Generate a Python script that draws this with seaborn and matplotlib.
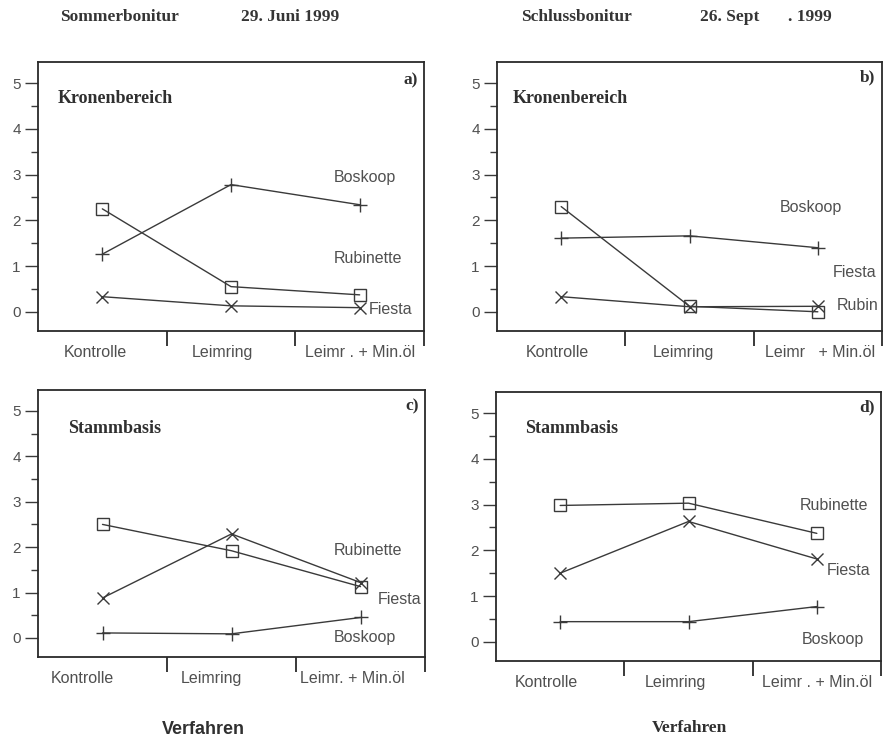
import matplotlib
matplotlib.use("Agg")
import numpy as np
import pandas as pd
import matplotlib.pyplot as plt
import seaborn as sns
from matplotlib.transforms import ScaledTranslation
from matplotlib.ticker import FixedLocator, MultipleLocator

# ---------------- data ----------------
categories = ["Kontrolle", "Leimring", "Leimr. + Min.öl"]
tick_labels_a = ["Kontrolle", "Leimring", "Leimr . + Min.öl"]
tick_labels_b = ["Kontrolle", "Leimring", "Leimr   + Min.öl"]
tick_labels_c = ["Kontrolle", "Leimring", "Leimr. + Min.öl"]
tick_labels_d = ["Kontrolle", "Leimring", "Leimr . + Min.öl"]
y_ticks = [0, 1, 2, 3, 4, 5]

# a) Sommerbonitur, Kronenbereich
boskoop_a = [1.26, 2.78, 2.34]
rubinette_a = [2.25, 0.55, 0.37]
fiesta_a = [0.33, 0.13, 0.09]
# b) Schlussbonitur, Kronenbereich
boskoop_b = [1.61, 1.66, 1.40]
rubinette_b = [2.30, 0.12, 0.00]
fiesta_b = [0.33, 0.11, 0.12]
# c) Sommerbonitur, Stammbasis
rubinette_c = [2.50, 1.92, 1.13]
fiesta_c = [0.88, 2.29, 1.22]
boskoop_c = [0.11, 0.09, 0.45]
# d) Schlussbonitur, Stammbasis
rubinette_d = [2.98, 3.03, 2.37]
fiesta_d = [1.50, 2.63, 1.81]
boskoop_d = [0.44, 0.44, 0.77]

# ---------------- style ----------------
sns.set_style("ticks")
plt.rcParams["font.family"] = ["Liberation Sans", "DejaVu Sans"]
LINE = "#3a3a3a"
TXT = "#505050"
SERIF = ["Liberation Serif", "DejaVu Serif"]

fig = plt.figure(figsize=(8.83, 7.38), dpi=100)
W, H = 883, 738


def axes_px(left, right, top, bottom):
    return fig.add_axes([left / W, 1 - bottom / H, (right - left) / W, (bottom - top) / H])


markers = {"Boskoop": dict(marker="+", ms=10),
           "Rubinette": dict(marker="s", ms=9),
           "Fiesta": dict(marker="x", ms=8)}


def panel(ax, series, ticklabels, offsets, area, letter, labels):
    for name, vals in series:
        df = pd.DataFrame({"Verfahren": categories, "Wert": vals})
        sns.lineplot(data=df, x="Verfahren", y="Wert", ax=ax, color=LINE, lw=1.0,
                     markerfacecolor="none", markeredgecolor=LINE, mew=1.0,
                     sort=False, **markers[name])
    ax.set_xlim(-0.5, 2.5)
    ax.set_ylim(-0.42, 5.46)
    ax.set_xlabel("")
    ax.set_ylabel("")
    for s in ax.spines.values():
        s.set_visible(True)
        s.set_linewidth(1.3)
        s.set_color("#2a2a2a")
    ax.yaxis.set_major_locator(FixedLocator(y_ticks))
    ax.yaxis.set_minor_locator(FixedLocator([0.5, 1.5, 2.5, 3.5, 4.5]))
    ax.tick_params(axis="y", which="major", length=9.5, width=1.0, color=LINE,
                   labelsize=11, labelcolor=TXT, pad=3)
    ax.tick_params(axis="y", which="minor", length=5, width=1.0, color=LINE)
    ax.xaxis.set_major_locator(FixedLocator([0, 1, 2]))
    ax.xaxis.set_minor_locator(FixedLocator([0.5, 1.5, 2.5]))
    ax.set_xticks([0, 1, 2])
    ax.set_xticklabels(ticklabels)
    ax.tick_params(axis="x", which="major", length=0, labelsize=11.5, labelcolor=TXT, pad=10)
    ax.tick_params(axis="x", which="minor", length=11, width=1.3, color="#2a2a2a")
    for lab, dx in zip(ax.get_xticklabels(), offsets):
        lab.set_transform(lab.get_transform() + ScaledTranslation(dx / 100, 0, fig.dpi_scale_trans))
    ax.text(area[1], area[2], area[0], family=SERIF, fontweight="bold", fontsize=13,
            color="#303030", ha="left", va="center")
    ax.text(2.45, letter[1], letter[0], family=SERIF, fontweight="bold", fontsize=12.5,
            color="#303030", ha="right", va="center")
    for txt, x, y in labels:
        ax.text(x, y, txt, fontsize=11.5, color=TXT, ha="left", va="center")


ax_a = axes_px(38, 424, 62, 331)
panel(ax_a, [("Boskoop", boskoop_a), ("Rubinette", rubinette_a), ("Fiesta", fiesta_a)],
      tick_labels_a, [-7, -9, 0], ("Kronenbereich", -0.35, 4.67), ("a)", 5.05),
      [("Boskoop", 1.80, 2.93), ("Rubinette", 1.80, 1.16), ("Fiesta", 2.07, 0.05)])

ax_b = axes_px(497, 882, 62, 331)
panel(ax_b, [("Boskoop", boskoop_b), ("Rubinette", rubinette_b), ("Fiesta", fiesta_b)],
      tick_labels_b, [-4, -6, 2], ("Kronenbereich", -0.38, 4.67), ("b)", 5.12),
      [("Boskoop", 1.70, 2.27), ("Fiesta", 2.12, 0.85), ("Rubin", 2.15, 0.13)])

ax_c = axes_px(38, 425, 390, 657)
panel(ax_c, [("Rubinette", rubinette_c), ("Fiesta", fiesta_c), ("Boskoop", boskoop_c)],
      tick_labels_c, [-20, -20, -8], ("Stammbasis", -0.27, 4.62), ("c)", 5.09),
      [("Rubinette", 1.79, 1.92), ("Fiesta", 2.13, 0.84), ("Boskoop", 1.79, 0.02)])

ax_d = axes_px(496, 881, 392, 661)
panel(ax_d, [("Rubinette", rubinette_d), ("Fiesta", fiesta_d), ("Boskoop", boskoop_d)],
      tick_labels_d, [-14, -13, 0], ("Stammbasis", -0.27, 4.67), ("d)", 5.13),
      [("Rubinette", 1.87, 2.98), ("Fiesta", 2.08, 1.55), ("Boskoop", 1.88, 0.04)])

# headers
hdr = dict(family=SERIF, fontweight="bold", fontsize=12.5, color="#353535", va="center")
fig.text(119 / W, 1 - 17 / H, "Sommerbonitur", ha="center", **hdr)
fig.text(290 / W, 1 - 17 / H, "29. Juni 1999", ha="center", **hdr)
fig.text(576 / W, 1 - 17 / H, "Schlussbonitur", ha="center", **hdr)
fig.text(700 / W, 1 - 17 / H, "26. Sept", ha="left", **hdr)
fig.text(832 / W, 1 - 17 / H, ". 1999", ha="right", **hdr)

fig.text(203 / W, 1 - 730 / H, "Verfahren", ha="center", va="center", fontsize=13,
         fontweight="semibold", color="#303030")
fig.text(689 / W, 1 - 728 / H, "Verfahren", ha="center", va="center", fontsize=12.5,
         family=SERIF, fontweight="bold", color="#303030")

fig.savefig("out.png", dpi=100)
